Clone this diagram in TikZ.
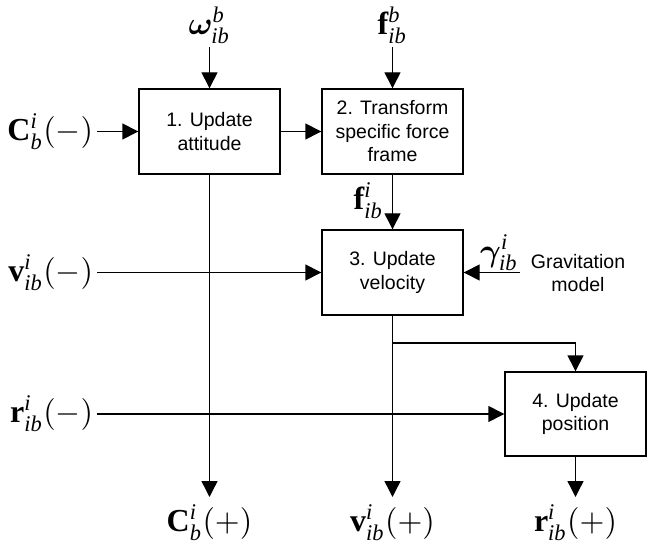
\documentclass[tikz,border=0pt]{standalone}
\usepackage{amsmath,bm}
\usepackage{fontspec}
\setmainfont{Liberation Serif}
\newfontfamily\arialf{Liberation Sans}
\usetikzlibrary{arrows.meta}
\newcommand{\Lpar}{\mathopen{\mathrm{(}}}
\newcommand{\Rpar}{\mathclose{\mathrm{)}}}
\tikzset{
  blk/.style={draw, line width=1.4pt, minimum width=141pt, minimum height=85pt,
    inner sep=0pt, align=center, font=\arialf\fontsize{19.5}{23.5}\selectfont},
  mlab/.style={inner sep=0pt, scale=3.2, font=\fontsize{10}{12}\selectfont},
  txt/.style={inner sep=0pt, align=center, font=\arialf\fontsize{19.5}{23.5}\selectfont},
  arr/.style={line width=1.4pt, -{Triangle[length=16pt,width=16pt]}}
}
\begin{document}
\begin{tikzpicture}[x=1pt,y=-1pt]
\useasboundingbox (0,0) rectangle (666,545);
% blocks
\node[blk] (b1) at (209.5,131.5) {1. Update\\attitude};
\node[blk] (b2) at (392.5,131.5) {2. Transform\\specific force\\frame};
\node[blk] (b3) at (392.5,272.5) {3. Update\\velocity};
\node[blk, minimum height=84pt] (b4) at (575.5,414) {4. Update\\position};
% top inputs
\node[mlab, anchor=south, outer sep=1pt] (om) at (209.5,47) {$\bm{\omega}^{\mathit{b}}_{\mathit{ib}}$};
\node[mlab, anchor=south, outer sep=1pt] (fb) at (392.5,47) {$\mathbf{f}^{\mathit{b}}_{\mathit{ib}}$};
\draw[arr] (om.south) -- (b1.north);
\draw[arr] (fb.south) -- (b2.north);
% left inputs
\node[mlab, anchor=east, outer sep=1.2pt] (cm) at (97,131.5) {$\mathbf{C}^{\mathit{i}}_{\mathit{b}}\Lpar{-}\Rpar$};
\node[mlab, anchor=east, outer sep=1.2pt] (vm) at (97,272.5) {$\mathbf{v}^{\mathit{i}}_{\mathit{ib}}\Lpar{-}\Rpar$};
\node[mlab, anchor=east, outer sep=1.2pt] (rm) at (97,414) {$\mathbf{r}^{\mathit{i}}_{\mathit{ib}}\Lpar{-}\Rpar$};
\draw[arr] (cm.east) -- (b1.west);
\draw[arr] (vm.east) -- (b3.west);
\draw[arr] (rm.east) -- (b4.west);
% block 1 -> block 2
\draw[arr] (b1.east) -- (b2.west);
% block 2 -> block 3
\draw[arr] (b2.south) -- (b3.north);
\node[mlab, anchor=east] (fi) at (384,201) {$\mathbf{f}^{\mathit{i}}_{\mathit{ib}}$};
% gravitation
\node[txt] (grav) at (578,273) {Gravitation\\model};
\coordinate (gs) at (520,272.5);
\draw[arr] (gs) -- (b3.east);
\node[mlab, anchor=south east, outer sep=0.6pt] (gam) at (520,272.5) {$\bm{\gamma}^{\mathit{i}}_{\mathit{ib}}$};
% outputs
\node[mlab, anchor=north, outer sep=2.4pt] (cp) at (209.5,497) {$\mathbf{C}^{\mathit{i}}_{\mathit{b}}\Lpar{+}\Rpar$};
\node[mlab, anchor=north, outer sep=2.4pt] (vp) at (392.5,497) {$\mathbf{v}^{\mathit{i}}_{\mathit{ib}}\Lpar{+}\Rpar$};
\node[mlab, anchor=north, outer sep=2.4pt] (rp) at (575.5,497) {$\mathbf{r}^{\mathit{i}}_{\mathit{ib}}\Lpar{+}\Rpar$};
\draw[arr] (b1.south) -- (cp.north);
\draw[arr] (b3.south) -- (vp.north);
\coordinate (sp) at (392.5,343);
\draw[arr] (sp) -| (b4.north);
\draw[arr] (b4.south) -- (rp.north);
\end{tikzpicture}
\end{document}
